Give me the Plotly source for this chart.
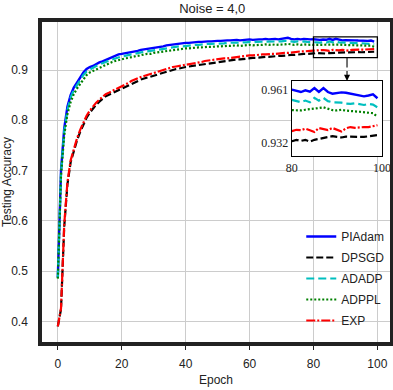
import plotly.graph_objects as go

epochs = list(range(100))

piadam = [0.487, 0.700, 0.784, 0.827, 0.850, 0.865, 0.875, 0.885, 0.895, 0.902,
          0.906, 0.908, 0.912, 0.915, 0.917, 0.920, 0.923, 0.926, 0.929, 0.931,
          0.932, 0.933, 0.934, 0.936, 0.937, 0.938, 0.940, 0.941, 0.942, 0.942,
          0.944, 0.945, 0.946, 0.947, 0.949, 0.950, 0.951, 0.951, 0.952, 0.953,
          0.954, 0.954, 0.955, 0.955, 0.956, 0.956, 0.957, 0.957, 0.957, 0.958,
          0.958, 0.958, 0.959, 0.959, 0.959, 0.960, 0.960, 0.959, 0.960, 0.961,
          0.961, 0.960, 0.961, 0.961, 0.961, 0.962, 0.961, 0.962, 0.962, 0.961,
          0.962, 0.963, 0.964, 0.962, 0.961, 0.962, 0.961, 0.962, 0.961, 0.961,
          0.9612, 0.9604, 0.9599, 0.9608, 0.9601, 0.9621, 0.9599, 0.9621, 0.9599, 0.9590,
          0.9593, 0.9597, 0.9595, 0.9590, 0.9586, 0.9580, 0.9575, 0.9580, 0.9586, 0.9565]

dpsgd = [0.390, 0.424, 0.588, 0.672, 0.716, 0.740, 0.760, 0.777, 0.791, 0.805,
         0.815, 0.824, 0.831, 0.837, 0.843, 0.848, 0.851, 0.854, 0.858, 0.861,
         0.864, 0.867, 0.870, 0.873, 0.876, 0.879, 0.881, 0.883, 0.885, 0.887,
         0.889, 0.891, 0.893, 0.895, 0.897, 0.899, 0.900, 0.902, 0.903, 0.905,
         0.906, 0.907, 0.908, 0.909, 0.910, 0.911, 0.912, 0.913, 0.914, 0.915,
         0.916, 0.917, 0.918, 0.918, 0.919, 0.920, 0.921, 0.921, 0.922, 0.923,
         0.923, 0.924, 0.924, 0.925, 0.925, 0.926, 0.926, 0.927, 0.927, 0.928,
         0.928, 0.929, 0.929, 0.930, 0.930, 0.931, 0.931, 0.932, 0.932, 0.932,
         0.9329, 0.9337, 0.9331, 0.9337, 0.9327, 0.9337, 0.9342, 0.9348, 0.9353, 0.9357,
         0.9353, 0.9350, 0.9355, 0.9353, 0.9355, 0.9353, 0.9353, 0.9355, 0.9357, 0.9363]

adadp = [0.487, 0.695, 0.778, 0.820, 0.845, 0.860, 0.870, 0.880, 0.890, 0.897,
         0.901, 0.904, 0.908, 0.911, 0.913, 0.916, 0.919, 0.921, 0.924, 0.926,
         0.927, 0.928, 0.930, 0.931, 0.932, 0.934, 0.935, 0.936, 0.937, 0.938,
         0.939, 0.940, 0.941, 0.942, 0.944, 0.944, 0.945, 0.946, 0.947, 0.947,
         0.948, 0.949, 0.949, 0.950, 0.950, 0.951, 0.951, 0.952, 0.952, 0.952,
         0.953, 0.953, 0.953, 0.954, 0.954, 0.954, 0.955, 0.954, 0.955, 0.955,
         0.956, 0.955, 0.956, 0.956, 0.956, 0.957, 0.956, 0.957, 0.956, 0.957,
         0.957, 0.958, 0.958, 0.957, 0.956, 0.957, 0.956, 0.957, 0.956, 0.956,
         0.9556, 0.9549, 0.9543, 0.9552, 0.9543, 0.9567, 0.9552, 0.9567, 0.9549, 0.9543,
         0.9543, 0.9541, 0.9536, 0.9534, 0.9537, 0.9534, 0.9528, 0.9534, 0.9530, 0.9515]

adppl = [0.485, 0.690, 0.770, 0.812, 0.836, 0.852, 0.863, 0.872, 0.882, 0.890,
         0.895, 0.898, 0.902, 0.905, 0.908, 0.910, 0.913, 0.916, 0.918, 0.920,
         0.921, 0.923, 0.924, 0.926, 0.927, 0.928, 0.930, 0.931, 0.932, 0.932,
         0.934, 0.935, 0.936, 0.937, 0.938, 0.939, 0.940, 0.940, 0.941, 0.942,
         0.943, 0.943, 0.944, 0.944, 0.945, 0.945, 0.946, 0.946, 0.946, 0.947,
         0.947, 0.947, 0.948, 0.948, 0.948, 0.949, 0.949, 0.948, 0.949, 0.949,
         0.950, 0.949, 0.950, 0.950, 0.950, 0.951, 0.950, 0.951, 0.950, 0.950,
         0.951, 0.951, 0.952, 0.951, 0.950, 0.951, 0.950, 0.951, 0.950, 0.950,
         0.9500, 0.9497, 0.9498, 0.9502, 0.9504, 0.9506, 0.9511, 0.9515, 0.9506, 0.9500,
         0.9498, 0.9502, 0.9497, 0.9493, 0.9493, 0.9491, 0.9489, 0.9487, 0.9483, 0.9463]

exp_ = [0.390, 0.426, 0.592, 0.676, 0.720, 0.744, 0.764, 0.781, 0.795, 0.809,
        0.819, 0.828, 0.835, 0.841, 0.847, 0.852, 0.855, 0.858, 0.862, 0.865,
        0.868, 0.871, 0.874, 0.878, 0.881, 0.884, 0.886, 0.888, 0.890, 0.892,
        0.894, 0.897, 0.899, 0.901, 0.903, 0.905, 0.906, 0.907, 0.908, 0.910,
        0.911, 0.912, 0.913, 0.914, 0.915, 0.916, 0.918, 0.919, 0.920, 0.921,
        0.921, 0.922, 0.923, 0.923, 0.924, 0.925, 0.926, 0.927, 0.928, 0.928,
        0.929, 0.929, 0.930, 0.930, 0.931, 0.931, 0.932, 0.932, 0.932, 0.933,
        0.933, 0.934, 0.934, 0.935, 0.936, 0.936, 0.937, 0.937, 0.938, 0.938,
        0.9385, 0.9392, 0.9390, 0.9398, 0.9389, 0.9380, 0.9402, 0.9394, 0.9390, 0.9402,
        0.9392, 0.9383, 0.9400, 0.9407, 0.9403, 0.9407, 0.9407, 0.9407, 0.9411, 0.9417]

series_names = ["PIAdam", "DPSGD", "ADADP", "ADPPL", "EXP"]
series_values = [piadam, dpsgd, adadp, adppl, exp_]
series_colors = ["#0000ff", "#000000", "#00bfbf", "#008000", "#ff0000"]
series_dash = ["solid", "7px,3px", "8px,4px", "2px,2px", "9px,2px,2px,2px"]
series_width = [2.4, 2.2, 2.2, 2.2, 2.2]

x_ticks = [0, 20, 40, 60, 80, 100]
y_ticks = [0.4, 0.5, 0.6, 0.7, 0.8, 0.9]
inset_x_ticks = [80, 100]
inset_y_ticks = [0.932, 0.961]
inset_x_range = [80, 100]
inset_y_range = [0.9248, 0.966]

FONT = "Liberation Sans, Arial, sans-serif"
SERIF = "Liberation Serif, Times New Roman, serif"

fig = go.Figure()
for name, vals, col, dash, w in zip(series_names, series_values, series_colors, series_dash, series_width):
    fig.add_trace(go.Scatter(x=epochs, y=vals, mode="lines", name=name,
                             line=dict(color=col, dash=dash, width=w),
                             legendgroup=name, xaxis="x", yaxis="y"))
for name, vals, col, dash, w in zip(series_names, series_values, series_colors, series_dash, series_width):
    xs = [e for e in epochs if e >= inset_x_range[0]]
    ys = [v for e, v in zip(epochs, vals) if e >= inset_x_range[0]]
    fig.add_trace(go.Scatter(x=xs, y=ys, mode="lines", name=name, showlegend=False,
                             line=dict(color=col, dash=dash, width=w),
                             legendgroup=name, xaxis="x2", yaxis="y2"))

# zoom rectangle on main axes
fig.add_shape(type="rect", xref="x", yref="y",
              x0=inset_x_range[0], x1=inset_x_range[1],
              y0=inset_y_range[0], y1=inset_y_range[1],
              line=dict(color="black", width=1.3))

ins_dom_x = [0.718, 0.977]
ins_dom_y = [0.581, 0.816]

# connector line from the zoom box to the inset, with an arrow head at the inset
fig.add_shape(type="line", xref="x", yref="y", x0=90.5, x1=90.5,
              y0=inset_y_range[0], y1=0.905, line=dict(color="black", width=1.1))
fig.add_annotation(x=90.5, y=ins_dom_y[1], xref="x", yref="paper",
                   ax=0, ay=-12, axref="pixel", ayref="pixel",
                   showarrow=True, arrowhead=2, arrowsize=1.1, arrowwidth=1.1,
                   arrowcolor="black", text=" ", font=dict(size=1))

fig.update_layout(
    width=393, height=390,
    margin=dict(l=42, r=3, t=22, b=48),
    paper_bgcolor="white", plot_bgcolor="white",
    title=dict(text="Noise = 4,0", x=0.54, xanchor="center", y=0.978, yanchor="middle",
               font=dict(family=FONT, size=13, color="#222")),
    font=dict(family=FONT, size=12, color="#222"),
    xaxis=dict(range=[-4.95, 103.95], tickvals=x_ticks, showgrid=True,
               gridcolor="#cccccc", gridwidth=1, zeroline=False, automargin=False,
               showline=True, mirror=True, linewidth=3.5, linecolor="#222",
               ticks="outside", ticklen=4, tickwidth=1.2, tickcolor="#222",
               ticklabelstandoff=4,
               title=dict(text="Epoch", standoff=6, font=dict(size=12))),
    yaxis=dict(range=[0.3589, 0.9955], tickvals=y_ticks, tickformat=".1f",
               showgrid=True, gridcolor="#cccccc", gridwidth=1, zeroline=False,
               automargin=False,
               showline=True, mirror=True, linewidth=3.5, linecolor="#222",
               ticks="", ticklabelstandoff=8,
               title=dict(text="Testing Accuracy", standoff=4, font=dict(size=12))),
    xaxis2=dict(domain=ins_dom_x, anchor="y2", range=inset_x_range, tickvals=inset_x_ticks,
                showgrid=False, zeroline=False, showline=True, mirror=True,
                linewidth=1.3, linecolor="black", ticks="", automargin=False,
                tickfont=dict(family=SERIF, size=12, color="#222")),
    yaxis2=dict(domain=ins_dom_y, anchor="x2", range=inset_y_range, tickvals=inset_y_ticks,
                tickformat=".3f", automargin=False,
                showgrid=False, zeroline=False, showline=True, mirror=True,
                linewidth=1.3, linecolor="black", ticks="",
                tickfont=dict(family=SERIF, size=12, color="#222")),
    legend=dict(x=0.745, y=0.375, xanchor="left", yanchor="top",
                bgcolor="rgba(255,255,255,0)", borderwidth=0,
                font=dict(family=FONT, size=12, color="#222"),
                tracegroupgap=2),
    showlegend=True,
)

fig.write_html("out.html", config={"displayModeBar": False},
               post_script="document.body.style.margin='0px';")
